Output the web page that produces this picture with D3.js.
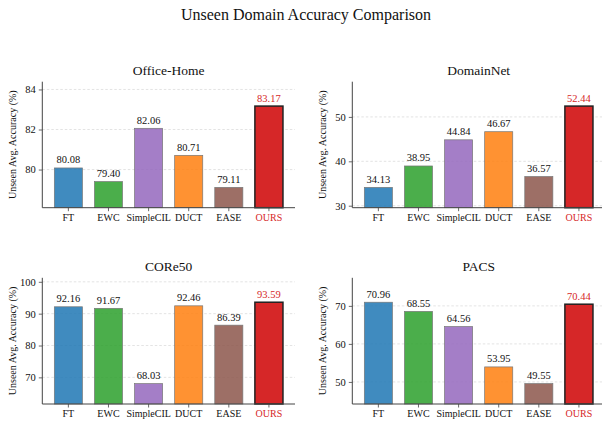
<!DOCTYPE html>
<html>
<head>
<meta charset="utf-8">
<script src="https://cdn.jsdelivr.net/npm/d3@7"></script>
<style>
  html, body { margin: 0; padding: 0; background: #fff; }
  svg { display: block; }
  text { font-family: "Liberation Serif", "Times New Roman", serif; }
</style>
</head>
<body>
<svg id="chart" width="602" height="421"></svg>
<script>
// Methods compared in every panel
const methods = ["FT", "EWC", "SimpleCIL", "DUCT", "EASE", "OURS"];
const methodColors = ["#1f77b4", "#2ca02c", "#9467bd", "#ff7f0e", "#8c564b", "#d62728"];

// Unseen-domain average accuracy (%) per benchmark
const officeHome = [80.08, 79.40, 82.06, 80.71, 79.11, 83.17];
const domainNet  = [34.13, 38.95, 44.84, 46.67, 36.57, 52.44];
const core50     = [92.16, 91.67, 68.03, 92.46, 86.39, 93.59];
const pacs       = [70.96, 68.55, 64.56, 53.95, 49.55, 70.44];

// Y tick labels per benchmark
const officeHomeTicks = [80, 82, 84];
const domainNetTicks  = [30, 40, 50];
const core50Ticks     = [70, 80, 90, 100];
const pacsTicks       = [50, 60, 70];

const datasetNames = ["Office-Home", "DomainNet", "CORe50", "PACS"];
const datasetValues = [officeHome, domainNet, core50, pacs];
const datasetTicks = [officeHomeTicks, domainNetTicks, core50Ticks, pacsTicks];

const svg = d3.select("#chart");

svg.append("text")
  .attr("x", 306).attr("y", 19.5)
  .attr("text-anchor", "middle")
  .attr("font-size", 16)
  .attr("fill", "#111")
  .text("Unseen Domain Accuracy Comparison");

// Plot-area frames for the 2x2 grid
const plotW = 252.7;
const frames = [
  { left: 42.3,  top: 81.7,  bottom: 207.7, titleY: 74.5 },
  { left: 352.3, top: 81.7,  bottom: 207.7, titleY: 74.5 },
  { left: 42.3,  top: 277.8, bottom: 404,   titleY: 270.5 },
  { left: 352.3, top: 277.8, bottom: 404,   titleY: 270.5 }
];

const highlight = "OURS";
const highlightColor = "#d62728";

datasetNames.forEach((name, i) => {
  const f = frames[i];
  const vals = datasetValues[i];
  const rows = methods.map((m, j) => ({ method: m, value: vals[j], color: methodColors[j] }));

  const lo = d3.min(vals), hi = d3.max(vals), span = hi - lo;
  const x = d3.scaleBand()
    .domain(methods)
    .range([f.left, f.left + plotW])
    .paddingInner(0.3)
    .paddingOuter(0.3);
  const y = d3.scaleLinear()
    .domain([lo - 0.25 * span, hi + 0.3 * span])
    .range([f.bottom, f.top]);

  const g = svg.append("g");

  // dashed horizontal grid
  g.append("g")
    .selectAll("line")
    .data(datasetTicks[i])
    .join("line")
    .attr("x1", f.left).attr("x2", f.left + plotW)
    .attr("y1", d => y(d)).attr("y2", d => y(d))
    .attr("stroke", "#dcdcdc")
    .attr("stroke-width", 0.8)
    .attr("stroke-dasharray", "2.5,2");

  // bars (the proposed method is drawn opaque with a dark outline)
  g.append("g")
    .selectAll("rect")
    .data(rows)
    .join("rect")
    .attr("x", d => x(d.method))
    .attr("width", x.bandwidth())
    .attr("y", d => y(d.value))
    .attr("height", d => f.bottom - y(d.value))
    .attr("fill", d => d.color)
    .attr("fill-opacity", d => d.method === highlight ? 1 : 0.85)
    .attr("stroke", d => d.method === highlight ? "#222" : "#777")
    .attr("stroke-width", d => d.method === highlight ? 1.5 : 0.7);

  // value labels
  g.append("g")
    .selectAll("text")
    .data(rows)
    .join("text")
    .attr("x", d => x(d.method) + x.bandwidth() / 2)
    .attr("y", d => y(d.value) - 4.5)
    .attr("text-anchor", "middle")
    .attr("font-size", 10.5)
    .attr("fill", d => d.method === highlight ? highlightColor : "#111")
    .text(d => d.value.toFixed(2));

  // axes
  const yAxis = g.append("g")
    .attr("transform", `translate(${f.left},0)`)
    .call(d3.axisLeft(y).tickValues(datasetTicks[i]).tickSize(3.5).tickPadding(3).tickFormat(d3.format("d")));
  const xAxis = g.append("g")
    .attr("transform", `translate(0,${f.bottom})`)
    .call(d3.axisBottom(x).tickSize(3.5).tickPadding(2.5));

  [yAxis, xAxis].forEach(ax => {
    ax.select(".domain").attr("stroke", "#444").attr("stroke-width", 1);
    ax.selectAll(".tick line").attr("stroke", "#444").attr("stroke-width", 0.8);
    ax.selectAll(".tick text")
      .attr("font-size", 10.5)
      .attr("fill", "#111");
  });
  yAxis.select(".domain").attr("d", `M0,${f.top}V${f.bottom}`);
  xAxis.select(".domain").attr("d", `M${f.left},0H${f.left + plotW}`);
  xAxis.selectAll(".tick text")
    .attr("font-size", 10)
    .filter(d => d === highlight)
    .attr("fill", highlightColor);

  // panel title
  g.append("text")
    .attr("x", f.left + plotW / 2)
    .attr("y", f.titleY)
    .attr("text-anchor", "middle")
    .attr("font-size", 13.5)
    .attr("fill", "#111")
    .text(name);

  // y-axis label
  const cy = (f.top + f.bottom) / 2;
  g.append("text")
    .attr("transform", `translate(${f.left - 26},${cy}) rotate(-90)`)
    .attr("text-anchor", "middle")
    .attr("font-size", 10)
    .attr("fill", "#111")
    .text("Unseen Avg. Accuracy (%)");
});
</script>
</body>
</html>
